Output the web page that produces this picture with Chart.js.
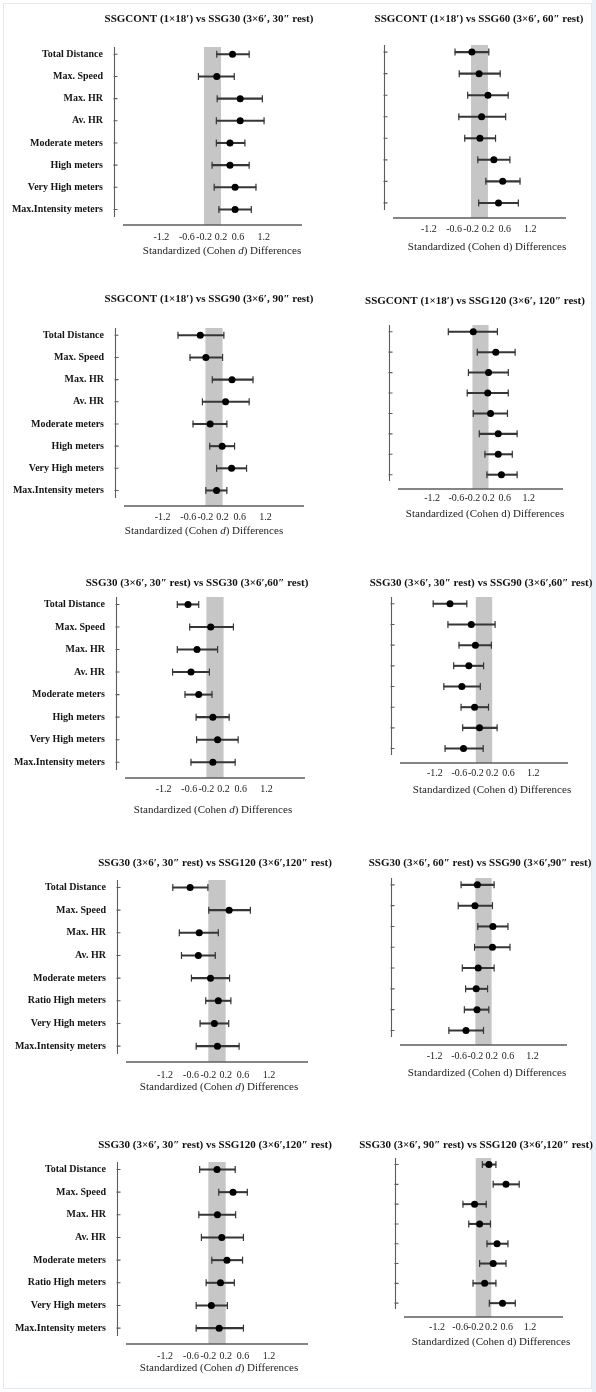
<!DOCTYPE html>
<html>
<head>
<meta charset="utf-8">
<script src="https://cdn.jsdelivr.net/npm/chart.js@4.4.1/dist/chart.umd.min.js"></script>
<style>
  body { margin: 0; background: #fff; }
  #fig { position: relative; width: 596px; height: 1392px; overflow: hidden; }
  #frame { position: absolute; left: 3px; top: 3px; width: 589px; height: 1386px; border: 1px solid #e2e9f2; box-sizing: border-box; }
  #edge { position: absolute; left: 592px; top: 0; width: 4px; height: 1392px; background: #eaf1f8; }
  .panel { position: absolute; }
  .panel canvas { display: block; }
</style>
</head>
<body>
<div id="fig">
  <div id="frame"></div>
  <div id="edge"></div>
</div>
<script>
// row labels
const rowsA = ['Total Distance', 'Max. Speed', 'Max. HR', 'Av. HR', 'Moderate meters', 'High meters', 'Very High meters', 'Max.Intensity meters'];
const rowsB = ['Total Distance', 'Max. Speed', 'Max. HR', 'Av. HR', 'Moderate meters', 'Ratio High meters', 'Very High meters', 'Max.Intensity meters'];
const xTicks = [-1.2, -0.6, -0.2, 0.2, 0.6, 1.2];
const trivialBand = [-0.2, 0.2];

const titles = [
  'SSGCONT (1×18′) vs SSG30 (3×6′, 30″ rest)',
  'SSGCONT (1×18′) vs SSG60 (3×6′, 60″ rest)',
  'SSGCONT (1×18′) vs SSG90 (3×6′, 90″ rest)',
  'SSGCONT (1×18′) vs SSG120 (3×6′, 120″ rest)',
  'SSG30 (3×6′, 30″ rest) vs SSG30 (3×6′,60″ rest)',
  'SSG30 (3×6′, 30″ rest) vs SSG90 (3×6′,60″ rest)',
  'SSG30 (3×6′, 30″ rest) vs SSG120 (3×6′,120″ rest)',
  'SSG30 (3×6′, 60″ rest) vs SSG90 (3×6′,90″ rest)',
  'SSG30 (3×6′, 30″ rest) vs SSG120 (3×6′,120″ rest)',
  'SSG30 (3×6′, 90″ rest) vs SSG120 (3×6′,120″ rest)'
];

// Cohen d and confidence limits, one set per panel
const p1Mean = [0.47, 0.10, 0.65, 0.65, 0.41, 0.41, 0.53, 0.53];
const p1Lo   = [0.10, -0.33, 0.11, 0.09, 0.09, -0.01, 0.04, 0.15];
const p1Hi   = [0.86, 0.51, 1.17, 1.21, 0.76, 0.86, 1.02, 0.91];

const p2Mean = [-0.18, -0.01, 0.20, 0.05, 0.01, 0.34, 0.55, 0.45];
const p2Lo   = [-0.58, -0.48, -0.28, -0.49, -0.35, -0.04, 0.15, -0.02];
const p2Hi   = [0.22, 0.49, 0.68, 0.62, 0.38, 0.72, 0.96, 0.92];

const p3Mean = [-0.32, -0.19, 0.42, 0.27, -0.09, 0.19, 0.41, 0.06];
const p3Lo   = [-0.84, -0.56, -0.04, -0.27, -0.49, -0.10, 0.06, -0.19];
const p3Hi   = [0.23, 0.20, 0.91, 0.82, 0.30, 0.48, 0.76, 0.30];

const p4Mean = [-0.18, 0.38, 0.20, 0.18, 0.25, 0.44, 0.44, 0.52];
const p4Lo   = [-0.80, -0.08, -0.30, -0.33, -0.18, -0.03, 0.11, 0.16];
const p4Hi   = [0.42, 0.86, 0.69, 0.69, 0.67, 0.91, 0.79, 0.91];

const p5Mean = [-0.63, -0.10, -0.42, -0.56, -0.38, -0.05, 0.06, -0.05];
const p5Lo   = [-0.88, -0.59, -0.88, -0.99, -0.70, -0.44, -0.43, -0.56];
const p5Hi   = [-0.38, 0.43, 0.06, -0.13, -0.07, 0.33, 0.54, 0.47];

const p6Mean = [-0.83, -0.31, -0.21, -0.37, -0.54, -0.23, -0.11, -0.50];
const p6Lo   = [-1.24, -0.88, -0.61, -0.74, -0.98, -0.56, -0.52, -0.95];
const p6Hi   = [-0.42, 0.27, 0.18, -0.01, -0.09, 0.11, 0.32, -0.02];

const p7Mean = [-0.62, 0.28, -0.41, -0.43, -0.15, 0.03, -0.06, 0.01];
const p7Lo   = [-1.02, -0.19, -0.87, -0.82, -0.59, -0.26, -0.39, -0.48];
const p7Hi   = [-0.21, 0.77, 0.03, -0.04, 0.29, 0.32, 0.27, 0.51];

const p8Mean = [-0.15, -0.21, 0.23, 0.22, -0.13, -0.18, -0.16, -0.43];
const p8Lo   = [-0.55, -0.62, -0.14, -0.22, -0.52, -0.44, -0.47, -0.85];
const p8Hi   = [0.26, 0.22, 0.60, 0.65, 0.26, 0.10, 0.13, 0.00];

const p9Mean = [0.00, 0.37, 0.01, 0.11, 0.23, 0.08, -0.13, 0.05];
const p9Lo   = [-0.40, 0.04, -0.42, -0.36, -0.12, -0.25, -0.48, -0.48];
const p9Hi   = [0.42, 0.70, 0.43, 0.61, 0.59, 0.40, 0.24, 0.61];

const p10Mean = [0.14, 0.58, -0.23, -0.10, 0.35, 0.25, 0.03, 0.49];
const p10Lo   = [-0.03, 0.25, -0.53, -0.38, 0.09, -0.10, -0.27, 0.15];
const p10Hi   = [0.32, 0.92, 0.07, 0.18, 0.63, 0.58, 0.32, 0.82];

const panels = [
  {rows: rowsA, mean: p1Mean, lo: p1Lo, hi: p1Hi},
  {rows: rowsA, mean: p2Mean, lo: p2Lo, hi: p2Hi},
  {rows: rowsA, mean: p3Mean, lo: p3Lo, hi: p3Hi},
  {rows: rowsA, mean: p4Mean, lo: p4Lo, hi: p4Hi},
  {rows: rowsA, mean: p5Mean, lo: p5Lo, hi: p5Hi},
  {rows: rowsA, mean: p6Mean, lo: p6Lo, hi: p6Hi},
  {rows: rowsB, mean: p7Mean, lo: p7Lo, hi: p7Hi},
  {rows: rowsA, mean: p8Mean, lo: p8Lo, hi: p8Hi},
  {rows: rowsB, mean: p9Mean, lo: p9Lo, hi: p9Hi},
  {rows: rowsA, mean: p10Mean, lo: p10Lo, hi: p10Hi}
];

// page layout (pixels): plot area [left, top, right, bottom], title centre, tick gap, axis title centre
const rowTops = [0, 280, 560, 830, 1110];
const rowHeights = [280, 280, 280, 280, 282];
const colLefts = [0, 298];
const colWidths = [340, 298];
const xMaxByCol = [2.1, 2.05];
const boxes = [
  {col: 0, row: 0, area: [123, 47, 302, 225], title: [209, 19], tickGap: 12, axisTitle: [222, 251]},
  {col: 1, row: 0, area: [393, 45, 566, 218], title: [479, 19], tickGap: 11, axisTitle: [487, 247]},
  {col: 0, row: 1, area: [124, 328, 304, 506], title: [209, 299], tickGap: 11, axisTitle: [204, 531]},
  {col: 1, row: 1, area: [398, 325, 563, 489], title: [475, 301], tickGap: 9, axisTitle: [485, 514]},
  {col: 0, row: 2, area: [125, 597, 305, 778], title: [197, 583], tickGap: 11, axisTitle: [213, 810]},
  {col: 1, row: 2, area: [400, 597, 568, 763], title: [481, 583], tickGap: 10, axisTitle: [492, 790]},
  {col: 0, row: 3, area: [126, 880, 308, 1062], title: [215, 863], tickGap: 13, axisTitle: [219, 1087]},
  {col: 1, row: 3, area: [400, 878, 567, 1045], title: [480, 863], tickGap: 11, axisTitle: [487, 1073]},
  {col: 0, row: 4, area: [126, 1162, 308, 1344], title: [215, 1145], tickGap: 12, axisTitle: [219, 1368]},
  {col: 1, row: 4, area: [404, 1158, 563, 1317], title: [476, 1145], tickGap: 10, axisTitle: [491, 1342]}
];

Chart.defaults.font.family = '"Liberation Serif", "Times New Roman", serif';

// grey band, axis lines, panel title and axis title
const framePlugin = {
  id: 'frame',
  beforeDatasetsDraw(chart) {
    const {ctx, chartArea: a, scales: {x, y}} = chart;
    ctx.save();
    const b0 = x.getPixelForValue(trivialBand[0]);
    const b1 = x.getPixelForValue(trivialBand[1]);
    ctx.fillStyle = '#c6c6c6';
    ctx.fillRect(b0, a.top, b1 - b0, a.bottom - a.top);

    ctx.strokeStyle = '#5c5c5c';
    ctx.lineWidth = 1.3;
    ctx.beginPath();
    ctx.moveTo(a.left, a.bottom);
    ctx.lineTo(a.right, a.bottom);
    ctx.stroke();

    const yx = Math.round(a.left - 9) + 0.5;
    ctx.lineWidth = 1.1;
    ctx.beginPath();
    ctx.moveTo(yx, a.top);
    ctx.lineTo(yx, a.bottom - 8);
    y.ticks.forEach(t => {
      const py = y.getPixelForValue(t.value);
      ctx.moveTo(yx - 1, py);
      ctx.lineTo(yx + 3, py);
    });
    ctx.stroke();
    ctx.restore();
  },
  afterDraw(chart, args, opts) {
    const ctx = chart.ctx;
    ctx.save();
    ctx.fillStyle = '#111';
    ctx.textBaseline = 'middle';
    ctx.textAlign = 'center';
    ctx.font = 'bold 11px "Liberation Serif"';
    ctx.fillText(opts.text, opts.titleX, opts.titleY);

    const parts = [
      ['Standardized (Cohen ', ''],
      ['d', opts.italicD ? 'italic ' : ''],
      [') Differences', '']
    ];
    let total = 0;
    parts.forEach(p => {
      ctx.font = p[1] + '11px "Liberation Serif"';
      total += ctx.measureText(p[0]).width;
    });
    let px = opts.axisX - total / 2;
    ctx.textAlign = 'left';
    ctx.fillStyle = '#222';
    parts.forEach(p => {
      ctx.font = p[1] + '11px "Liberation Serif"';
      ctx.fillText(p[0], px, opts.axisY);
      px += ctx.measureText(p[0]).width;
    });
    ctx.restore();
  }
};

function makePanel(k) {
  const p = panels[k];
  const box = boxes[k];
  const left0 = colLefts[box.col];
  const top0 = rowTops[box.row];
  const H = rowHeights[box.row];
  const W = colWidths[box.col];
  const aL = box.area[0] - left0, aT = box.area[1] - top0;
  const aR = box.area[2] - left0, aB = box.area[3] - top0;
  const xAxisH = 30;
  const xMax = xMaxByCol[box.col];

  const wrap = document.createElement('div');
  wrap.className = 'panel';
  wrap.style.left = left0 + 'px';
  wrap.style.top = top0 + 'px';
  const cv = document.createElement('canvas');
  cv.width = W;
  cv.height = H;
  wrap.appendChild(cv);
  document.getElementById('fig').appendChild(wrap);

  const ciData = p.rows.map((r, i) => ({y: i + 1, x: [p.lo[i], p.hi[i]]}));
  const capData = p.lo.map((v, i) => ({x: v, y: i + 1})).concat(p.hi.map((v, i) => ({x: v, y: i + 1})));
  const meanData = p.mean.map((v, i) => ({x: v, y: i + 1}));

  new Chart(cv, {
    type: 'bar',
    data: {
      datasets: [
        {
          type: 'bar',
          data: ciData,
          barThickness: 1.4,
          backgroundColor: '#363636',
          borderWidth: 0,
          order: 3
        },
        {
          type: 'scatter',
          data: capData,
          pointStyle: 'line',
          rotation: 90,
          radius: 3.5,
          borderColor: '#363636',
          borderWidth: 1.2,
          order: 2
        },
        {
          type: 'scatter',
          data: meanData,
          pointStyle: 'circle',
          radius: 3.5,
          backgroundColor: '#000',
          borderColor: '#000',
          borderWidth: 0,
          order: 1
        }
      ]
    },
    options: {
      indexAxis: 'y',
      responsive: false,
      animation: false,
      events: [],
      layout: {
        padding: {left: 0, top: aT, right: W - aR, bottom: H - aB - xAxisH}
      },
      plugins: {
        legend: {display: false},
        tooltip: {enabled: false},
        frame: {
          text: titles[k],
          titleX: box.title[0] - left0,
          titleY: box.title[1] - top0,
          axisX: box.axisTitle[0] - left0,
          axisY: box.axisTitle[1] - top0,
          italicD: box.col === 0
        }
      },
      scales: {
        x: {
          type: 'linear',
          bounds: 'data',
          offset: false,
          min: -xMax,
          max: xMax,
          grid: {display: false, drawTicks: false, offset: false},
          border: {display: false},
          afterBuildTicks: s => { s.ticks = xTicks.map(v => ({value: v})); },
          afterFit: s => { s.height = xAxisH; },
          ticks: {
            autoSkip: false,
            maxRotation: 0,
            padding: box.tickGap - 6,
            color: '#222',
            font: {size: 10},
            callback: v => String(v)
          }
        },
        y: {
          type: 'linear',
          bounds: 'data',
          offset: false,
          reverse: true,
          min: 0.67,
          max: 8.7,
          grid: {display: false, drawTicks: false, offset: false},
          border: {display: false},
          afterBuildTicks: s => { s.ticks = p.rows.map((r, i) => ({value: i + 1})); },
          afterFit: s => { s.width = aL; },
          ticks: {
            display: box.col === 0,
            autoSkip: false,
            padding: 20,
            color: '#151515',
            font: {size: 10, weight: 'bold'},
            callback: v => p.rows[v - 1]
          }
        }
      }
    },
    plugins: [framePlugin]
  });
}

for (let k = 0; k < panels.length; k++) {
  makePanel(k);
}
</script>
</body>
</html>
